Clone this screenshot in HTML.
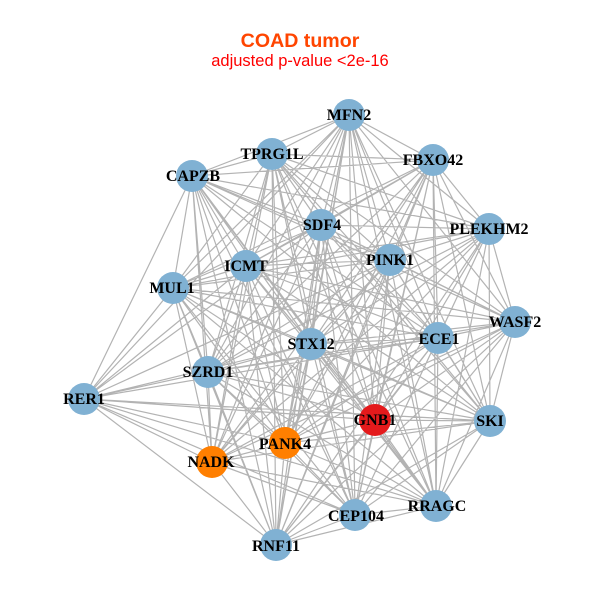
<!DOCTYPE html>
<html><head><meta charset="utf-8"><style>
html,body{margin:0;padding:0;background:#fff}
svg{display:block}
.n{font:bold 16px "Liberation Serif",serif;fill:#000;text-anchor:middle}
</style></head><body>
<svg width="600" height="600" viewBox="0 0 600 600" xmlns="http://www.w3.org/2000/svg">
<rect width="600" height="600" fill="#fff"/>
<text x="300" y="47" text-anchor="middle" font-family="Liberation Sans,sans-serif" font-weight="bold" font-size="19.6" fill="#FF4500">COAD tumor</text>
<text x="300" y="66" text-anchor="middle" font-family="Liberation Sans,sans-serif" font-size="16.5" fill="#FF0000">adjusted p-value &lt;2e-16</text>
<path fill="none" stroke="#B3B3B3" stroke-width="1.2" d="
M349 115L433 160M349 115L272 154M349 115L192 176M349 115L489 229M349 115L321 225M349 115L390 260M349 115L246 266M349 115L173 288M349 115L515 322M349 115L438 338M349 115L311 344M349 115L208 372M349 115L84 399M349 115L375 420M349 115L490 421M349 115L285 443M349 115L212 462M349 115L436 506M349 115L355 515M349 115L276 545
M433 160L272 154M433 160L192 176M433 160L489 229M433 160L321 225M433 160L390 260M433 160L246 266M433 160L173 288M433 160L515 322M433 160L438 338M433 160L311 344M433 160L208 372M433 160L375 420M433 160L490 421M433 160L285 443M433 160L212 462M433 160L436 506M433 160L355 515M433 160L276 545
M272 154L192 176M272 154L489 229M272 154L321 225M272 154L390 260M272 154L246 266M272 154L173 288M272 154L515 322M272 154L438 338M272 154L311 344M272 154L208 372M272 154L375 420M272 154L490 421M272 154L285 443M272 154L212 462M272 154L436 506M272 154L355 515M272 154L276 545
M192 176L489 229M192 176L321 225M192 176L390 260M192 176L246 266M192 176L173 288M192 176L515 322M192 176L438 338M192 176L311 344M192 176L208 372M192 176L84 399M192 176L375 420M192 176L490 421M192 176L285 443M192 176L212 462M192 176L436 506M192 176L355 515M192 176L276 545
M489 229L321 225M489 229L390 260M489 229L246 266M489 229L173 288M489 229L515 322M489 229L438 338M489 229L311 344M489 229L208 372M489 229L375 420M489 229L490 421M489 229L285 443M489 229L212 462M489 229L436 506M489 229L355 515M489 229L276 545
M321 225L390 260M321 225L246 266M321 225L173 288M321 225L515 322M321 225L438 338M321 225L311 344M321 225L208 372M321 225L84 399M321 225L375 420M321 225L490 421M321 225L285 443M321 225L212 462M321 225L436 506M321 225L355 515M321 225L276 545
M390 260L246 266M390 260L173 288M390 260L515 322M390 260L438 338M390 260L311 344M390 260L208 372M390 260L84 399M390 260L375 420M390 260L490 421M390 260L285 443M390 260L212 462M390 260L436 506M390 260L355 515M390 260L276 545
M246 266L173 288M246 266L515 322M246 266L438 338M246 266L311 344M246 266L208 372M246 266L84 399M246 266L375 420M246 266L490 421M246 266L285 443M246 266L212 462M246 266L436 506M246 266L355 515M246 266L276 545
M173 288L515 322M173 288L438 338M173 288L311 344M173 288L208 372M173 288L84 399M173 288L375 420M173 288L490 421M173 288L285 443M173 288L212 462M173 288L436 506M173 288L355 515M173 288L276 545
M515 322L438 338M515 322L311 344M515 322L208 372M515 322L375 420M515 322L490 421M515 322L285 443M515 322L212 462M515 322L436 506M515 322L355 515M515 322L276 545
M438 338L311 344M438 338L208 372M438 338L84 399M438 338L375 420M438 338L490 421M438 338L285 443M438 338L212 462M438 338L436 506M438 338L355 515M438 338L276 545
M311 344L208 372M311 344L84 399M311 344L375 420M311 344L490 421M311 344L285 443M311 344L212 462M311 344L436 506M311 344L355 515M311 344L276 545
M208 372L84 399M208 372L375 420M208 372L490 421M208 372L285 443M208 372L212 462M208 372L436 506M208 372L355 515M208 372L276 545
M84 399L375 420M84 399L490 421M84 399L285 443M84 399L212 462M84 399L436 506M84 399L355 515M84 399L276 545
M375 420L490 421M375 420L285 443M375 420L212 462M375 420L436 506M375 420L355 515M375 420L276 545
M490 421L285 443M490 421L212 462M490 421L436 506M490 421L355 515M490 421L276 545
M285 443L212 462M285 443L436 506M285 443L355 515M285 443L276 545
M212 462L436 506M212 462L355 515M212 462L276 545
M436 506L355 515M436 506L276 545
M355 515L276 545"/>
<g fill="#80B1D3">
<circle cx="349" cy="115" r="16"/><circle cx="433" cy="160" r="16"/><circle cx="272" cy="154" r="16"/><circle cx="192" cy="176" r="16"/><circle cx="489" cy="229" r="16"/><circle cx="321" cy="225" r="16"/><circle cx="390" cy="260" r="16"/><circle cx="246" cy="266" r="16"/><circle cx="173" cy="288" r="16"/><circle cx="515" cy="322" r="16"/><circle cx="438" cy="338" r="16"/><circle cx="311" cy="344" r="16"/><circle cx="208" cy="372" r="16"/><circle cx="84" cy="399" r="16"/><circle cx="490" cy="421" r="16"/><circle cx="436" cy="506" r="16"/><circle cx="355" cy="515" r="16"/><circle cx="276" cy="545" r="16"/>
</g>
<circle cx="375" cy="420" r="16" fill="#E41A1C"/>
<circle cx="285" cy="443" r="16" fill="#FF7F00"/>
<circle cx="212" cy="462" r="16" fill="#FF7F00"/>
<g class="n">
<text class="n" x="349" y="120">MFN2</text>
<text class="n" x="433" y="165">FBXO42</text>
<text class="n" x="272" y="159">TPRG1L</text>
<text class="n" x="193" y="181">CAPZB</text>
<text class="n" x="489" y="234">PLEKHM2</text>
<text class="n" x="322" y="230">SDF4</text>
<text class="n" x="390" y="265">PINK1</text>
<text class="n" x="246" y="271">ICMT</text>
<text class="n" x="172" y="293">MUL1</text>
<text class="n" x="515" y="327">WASF2</text>
<text class="n" x="439" y="344">ECE1</text>
<text class="n" x="311" y="349">STX12</text>
<text class="n" x="208" y="377">SZRD1</text>
<text class="n" x="84" y="404">RER1</text>
<text class="n" x="375" y="425">GNB1</text>
<text class="n" x="490" y="426">SKI</text>
<text class="n" x="285" y="449">PANK4</text>
<text class="n" x="211" y="467">NADK</text>
<text class="n" x="437" y="511">RRAGC</text>
<text class="n" x="356" y="521">CEP104</text>
<text class="n" x="276" y="551">RNF11</text>
</g>
</svg>
</body></html>
